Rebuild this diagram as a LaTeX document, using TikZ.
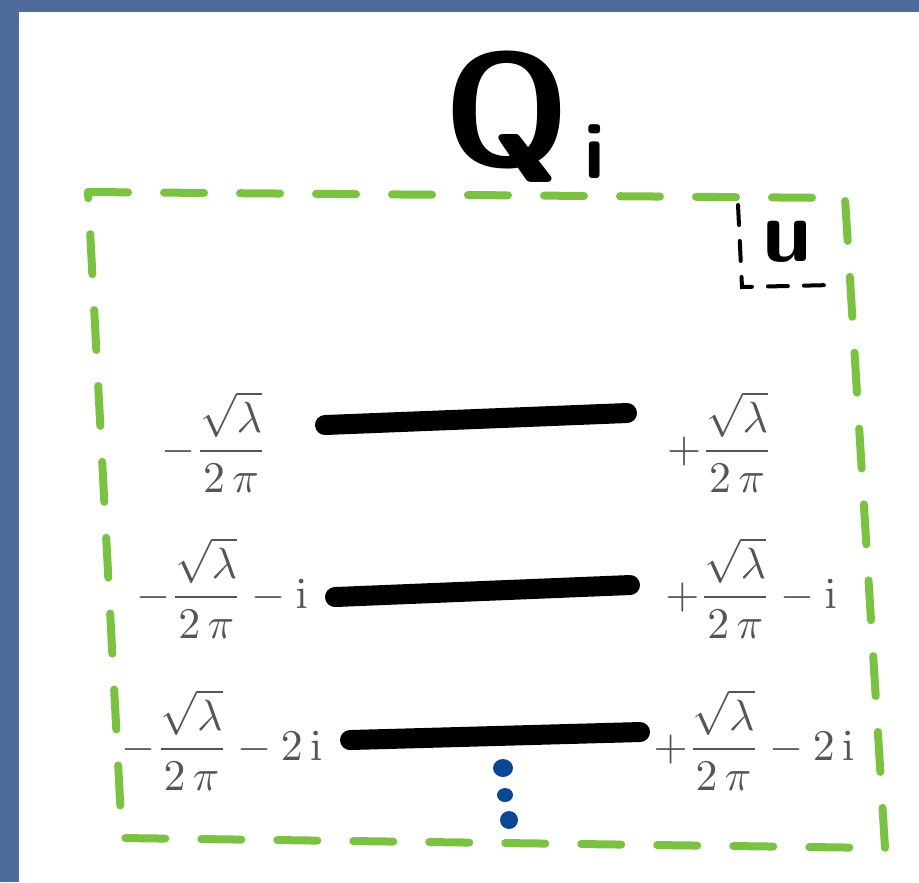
\documentclass[tikz,border=0pt]{standalone}
\usepackage{amsmath}
\usetikzlibrary{positioning}
\definecolor{Slate}{HTML}{4F6B9B}
\definecolor{Leaf}{HTML}{7CC242}
\definecolor{Ink}{HTML}{555555}
\definecolor{Dot}{HTML}{0C4795}
\newcommand{\rootfrac}{\dfrac{\sqrt{\lambda}}{2\,\pi}}

\begin{document}
\begin{tikzpicture}[x=0.25pt,y=-0.25pt,
  lbl/.style={text=Ink,font=\fontsize{10.5}{12}\selectfont,inner sep=0pt,anchor=base},
  cut/.style={line width=5pt,line cap=round},
  frame/.style={Leaf,line width=2pt,line cap=round,dash pattern=on 10pt off 9pt},
  corner/.style={line width=1pt,line cap=round,dash pattern=on 5pt off 4pt},
  hand/.style={font=\sffamily\bfseries,inner sep=0pt}]
\useasboundingbox (0,0) rectangle (919,882);
\fill[Slate] (0,0) rectangle (919,882);
\fill[white] (19,12) rectangle (919,882);
% title
\node[hand,font=\fontsize{40}{40}\sffamily\bfseries,anchor=base] (Q) at (507,165) {Q};
\node[hand,font=\fontsize{20}{20}\sffamily\bfseries,anchor=base west] (Qsub) at (584,178) {i};
% region box and corner label
\draw[frame] (88,192) -- (845,198) -- (885,848) -- (122,838) -- cycle;
\node[hand,font=\fontsize{22}{22}\sffamily\bfseries] (u) at (787,242) {u};
\draw[corner] (738,205) -- (742,287) -- (832,285);
% cuts
\draw[cut] (325,425) -- (627,413);
\draw[cut] (335,597) -- (630,585);
\draw[cut] (350,740) -- (640,732);
\node[lbl] (l1) at (214,462) {$-\rootfrac$};
\node[lbl] (r1) at (720,462) {$+\rootfrac$};
\node[lbl] (l2) at (222,608) {$-\rootfrac-\mathrm{i}$};
\node[lbl] (r2) at (751,608) {$+\rootfrac-\mathrm{i}$};
\node[lbl] (l3) at (222,760) {$-\rootfrac-2\,\mathrm{i}$};
\node[lbl] (r3) at (754,760) {$+\rootfrac-2\,\mathrm{i}$};
% dots
\fill[Dot] (503,768) ellipse (10 and 9);
\fill[Dot] (505,795) ellipse (8 and 7);
\fill[Dot] (509,820) ellipse (9 and 9);
\end{tikzpicture}
\end{document}
